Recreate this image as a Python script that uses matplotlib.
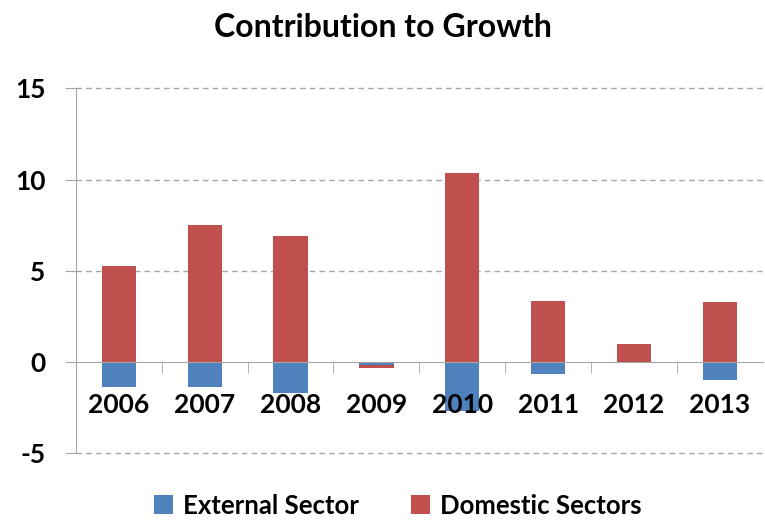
import numpy as np
import matplotlib.pyplot as plt

plt.rcParams['font.family'] = ['Lato', 'DejaVu Sans']
plt.rcParams['axes.unicode_minus'] = False

years = ['2006', '2007', '2008', '2009', '2010', '2011', '2012', '2013']
external = [-1.35, -1.35, -1.72, -0.15, -2.7, -0.66, 0.0, -0.99]
domestic = [5.28, 7.52, 6.9, -0.19, 10.34, 3.36, 1.0, 3.3]

blue = '#4F81BD'
red = '#C0504D'
grey = '#A6A6A6'

x = np.arange(len(years))
ext = np.array(external)
dom = np.array(domestic)

# negative domestic values stack below the external part
dom_bottom = np.where(dom < 0, np.minimum(ext, 0), 0)

fig = plt.figure(figsize=(7.65, 5.25), dpi=100)
ax = fig.add_axes([0.0993, 0.1366, 0.8977, 0.6952])

ax.bar(x, ext, width=0.4, color=blue, label='External Sector', zorder=1)
ax.bar(x, dom, width=0.4, bottom=dom_bottom, color=red, label='Domestic Sectors', zorder=1)

ax.set_xlim(-0.5, len(years) - 0.5)
ax.set_ylim(-5, 15)
ax.set_yticks([-5, 0, 5, 10, 15])

# gridlines (dashed) except at zero where the axis sits
for v in [-5, 5, 10, 15]:
    ax.axhline(v, color=grey, lw=1, ls=(0, (4, 3)), zorder=0, clip_on=False)

for s in ['top', 'right']:
    ax.spines[s].set_visible(False)
ax.spines['bottom'].set_position(('data', 0))
ax.spines['bottom'].set_color(grey)
ax.spines['left'].set_color(grey)

ax.set_xticks(x)
ax.set_xticklabels(years)
ax.set_xticks(np.arange(len(years) - 1) + 0.5, minor=True)
ax.tick_params(axis='x', which='major', length=0, pad=22, labelsize=19)
ax.tick_params(axis='x', which='minor', length=8, color=grey, direction='out')
for lab in ax.get_xticklabels():
    lab.set_fontweight('bold')

ax.tick_params(axis='y', length=8, color=grey, pad=14, labelsize=19)
for lab in ax.get_yticklabels():
    lab.set_fontweight('bold')

fig.suptitle('Contribution to Growth', y=0.975, fontsize=23, fontweight='bold')

fig.legend(loc='lower center', bbox_to_anchor=(0.52, -0.03), ncol=2, frameon=False,
           prop={'size': 18.5, 'weight': 'bold'}, handlelength=0.75, handleheight=0.75,
           handletextpad=0.4, columnspacing=2.0)

fig.savefig('out.png', dpi=100)
